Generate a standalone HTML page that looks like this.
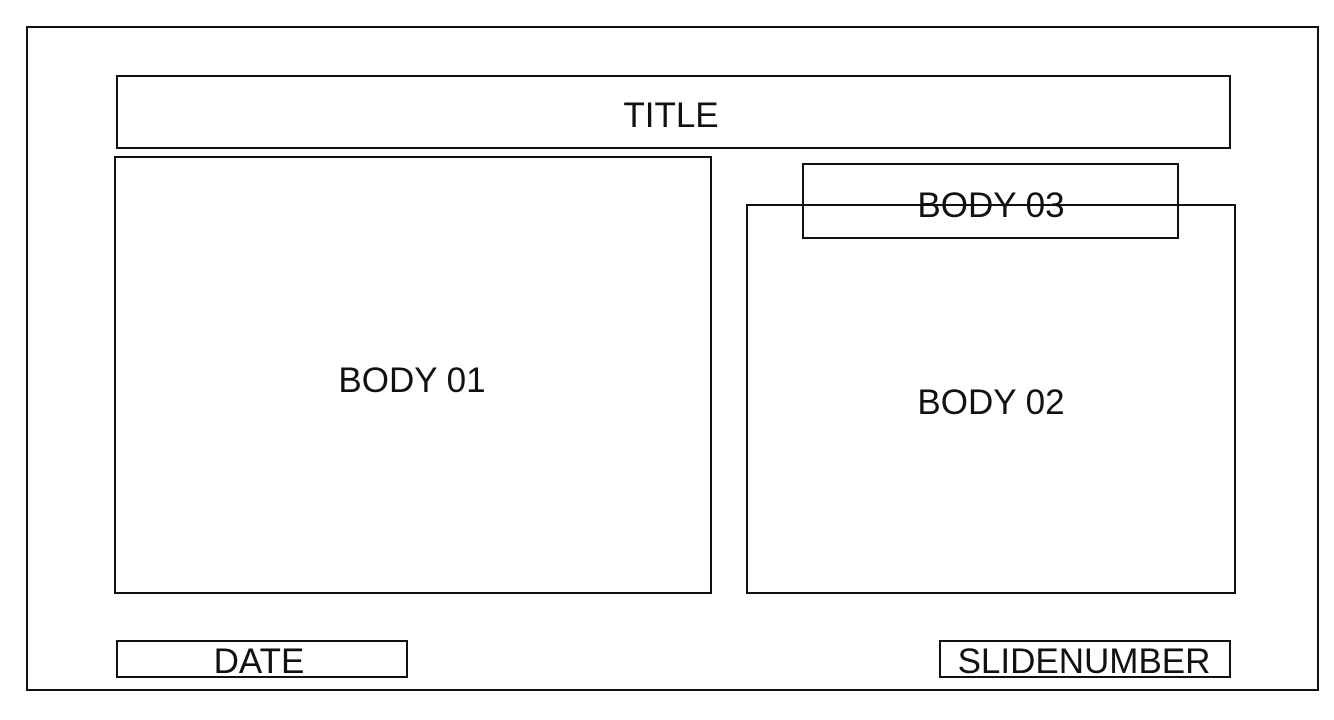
<!DOCTYPE html>
<html><head><style>
body{margin:0;background:#fff}
</style></head><body>
<svg width="1334" height="715" viewBox="0 0 1334 715" xmlns="http://www.w3.org/2000/svg">
<g fill="none" stroke="#111" stroke-width="2">
<rect x="27" y="27" width="1291" height="663"/>
<rect x="117" y="76" width="1113" height="72"/>
<rect x="115" y="157" width="596" height="436"/>
<rect x="747" y="205" width="488" height="388"/>
<rect x="803" y="164" width="375" height="74"/>
<rect x="117" y="641" width="290" height="36"/>
<rect x="940" y="641" width="290" height="36"/>
</g>
<g font-family="Liberation Sans, sans-serif" font-size="35" fill="#111" text-anchor="middle">
<text x="671" y="127">TITLE</text>
<text x="412" y="392">BODY 01</text>
<text x="991" y="414">BODY 02</text>
<text x="991" y="217">BODY 03</text>
<text x="259" y="673">DATE</text>
<text x="1084" y="673">SLIDENUMBER</text>
</g>
</svg>
</body></html>
